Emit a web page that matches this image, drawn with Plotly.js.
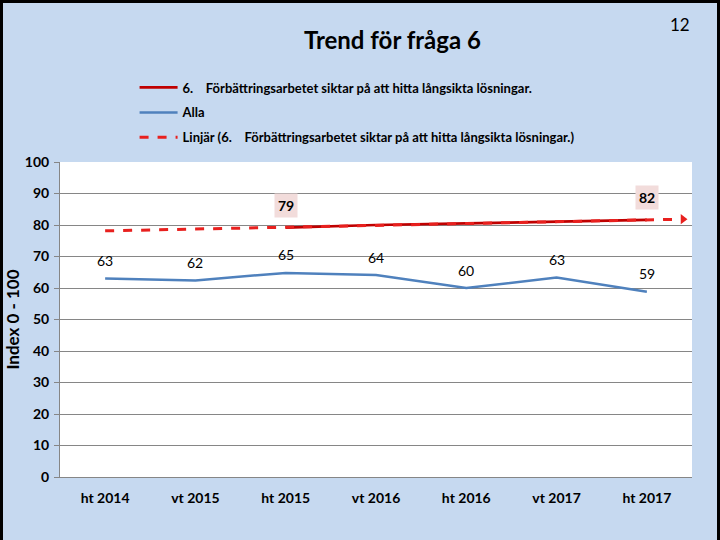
<!DOCTYPE html>
<html>
<head>
<meta charset="utf-8">
<script src="https://cdn.plot.ly/plotly-3.0.1.min.js"></script>
<style>
  html, body { margin: 0; padding: 0; background: #C6D9F0; }
  #wrap { position: relative; width: 720px; height: 540px; }
  #plot { width: 720px; height: 540px; }
  #frame { position: absolute; left: 0; top: 0; width: 720px; height: 540px; box-sizing: border-box;
           border-left: 3px solid #000; border-top: 3px solid #000; border-right: 3px solid #000; pointer-events: none; }
</style>
</head>
<body>
<div id="wrap"><div id="plot"></div><div id="frame"></div></div>
<script>
// ---- data ----
const categories = ["ht 2014", "vt 2015", "ht 2015", "vt 2016", "ht 2016", "vt 2017", "ht 2017"];
const fraga6 = [null, null, 79.2, 80.0, 80.5, 81.0, 81.6];
const alla = [63.0, 62.4, 64.8, 64.1, 60.0, 63.3, 58.8];
const yTicks = [0, 10, 20, 30, 40, 50, 60, 70, 80, 90, 100];
const name6 = "6.&nbsp;&nbsp;&nbsp;&nbsp;Förbättringsarbetet siktar på att hitta långsikta lösningar.";
const nameAlla = "Alla";
const nameTrend = "Linjär (6.&nbsp;&nbsp;&nbsp;&nbsp;Förbättringsarbetet siktar på att hitta långsikta lösningar.)";
const trendBackward = 2;   // periods
const trendForward = 0.35; // periods

// ---- derived ----
const idx = categories.map((_, i) => i);
const pts = idx.filter(i => fraga6[i] !== null);
const mx = pts.reduce((s, i) => s + i, 0) / pts.length;
const my = pts.reduce((s, i) => s + fraga6[i], 0) / pts.length;
const slope = pts.reduce((s, i) => s + (i - mx) * (fraga6[i] - my), 0) /
              pts.reduce((s, i) => s + (i - mx) * (i - mx), 0);
const icpt = my - slope * mx;
const tx0 = pts[0] - trendBackward;
const tx1 = pts[pts.length - 1] + trendForward;
const trendX = [tx0, tx1];
const trendY = trendX.map(x => icpt + slope * x);

const FONT = "Lato, 'Open Sans', sans-serif";

const traces = [
  {
    x: idx, y: fraga6, name: name6, type: "scatter", mode: "lines", legendgroup: "a",
    line: { color: "#C00000", width: 2.75 }, connectgaps: false
  },
  {
    x: idx, y: alla, name: nameAlla, type: "scatter", mode: "lines", legendgroup: "b",
    line: { color: "#4F81BD", width: 2.5 }
  },
  {
    x: trendX, y: trendY, name: nameTrend, type: "scatter", mode: "lines", legendgroup: "c",
    line: { color: "#E8201E", width: 3, dash: "dash" }
  },
  {
    x: [tx1 + 0.05], y: [icpt + slope * (tx1 + 0.05)], type: "scatter", mode: "markers",
    marker: { symbol: "triangle-right", size: 9, color: "#E8201E" },
    showlegend: false, hoverinfo: "skip", cliponaxis: false
  }
];

const redLabels = [pts[0], pts[pts.length - 1]].map(i => ({
  x: i, y: fraga6[i], xref: "x", yref: "y",
  text: "<b>" + Math.round(fraga6[i]) + "</b>",
  showarrow: false, yshift: 22, bgcolor: "#F2DCDB", borderpad: 3,
  font: { family: FONT, size: 14, color: "#000" }
}));

const blueLabels = idx.map(i => ({
  x: i, y: alla[i], xref: "x", yref: "y",
  text: String(Math.round(alla[i])),
  showarrow: false, yshift: 18,
  font: { family: FONT, size: 14, color: "#000" }
}));

const layout = {
  width: 720, height: 540,
  paper_bgcolor: "#C6D9F0", plot_bgcolor: "#FFFFFF",
  margin: { l: 60, r: 28, t: 162, b: 63 },
  title: {
    text: "<b>Trend för fråga 6</b>",
    font: { family: FONT, size: 24, color: "#000" },
    x: 0.545, xanchor: "center", y: 0.925, yanchor: "middle"
  },
  showlegend: true,
  legend: {
    x: 0.118, xanchor: "left", y: 1.284, yanchor: "top",
    bgcolor: "rgba(0,0,0,0)", traceorder: "grouped",
    font: { family: FONT, size: 13, color: "#000", weight: "bold" },
    tracegroupgap: 5, itemwidth: 38
  },
  xaxis: {
    range: [-0.5, 6.5], tickvals: idx, ticktext: categories.map(c => "<b>" + c + "</b>"),
    ticks: "", showgrid: false, zeroline: false,
    showline: true, linecolor: "#868686", linewidth: 1, ticklabelstandoff: 8,
    tickfont: { family: FONT, size: 14, color: "#000" }, fixedrange: true
  },
  xaxis2: {
    overlaying: "x", anchor: "y", side: "bottom",
    range: [-0.5, 6.5], tickvals: [-0.5, 0.5, 1.5, 2.5, 3.5, 4.5, 5.5, 6.5],
    ticks: "outside", ticklen: 5, tickcolor: "#868686", showticklabels: false,
    showgrid: false, zeroline: false, showline: false
  },
  yaxis: {
    range: [0, 100], tickvals: yTicks, ticktext: yTicks.map(v => "<b>" + v + "</b>"),
    ticks: "outside", ticklen: 5, tickcolor: "#868686", ticklabelstandoff: 2,
    showgrid: true, gridcolor: "#868686", gridwidth: 1, zeroline: false,
    showline: true, linecolor: "#868686", linewidth: 1,
    tickfont: { family: FONT, size: 14, color: "#000" },
    title: { text: "<b>Index 0 - 100</b>", font: { family: FONT, size: 17, color: "#000" }, standoff: 0 }
  },
  annotations: redLabels.concat(blueLabels, [
    {
      x: 1.0, y: 1.435, xref: "paper", yref: "paper", xanchor: "right", yanchor: "middle",
      text: "12", showarrow: false, font: { family: FONT, size: 17, color: "#000" }
    }
  ])
};

Plotly.newPlot("plot", traces, layout, { displayModeBar: false, staticPlot: true });
</script>
</body>
</html>
